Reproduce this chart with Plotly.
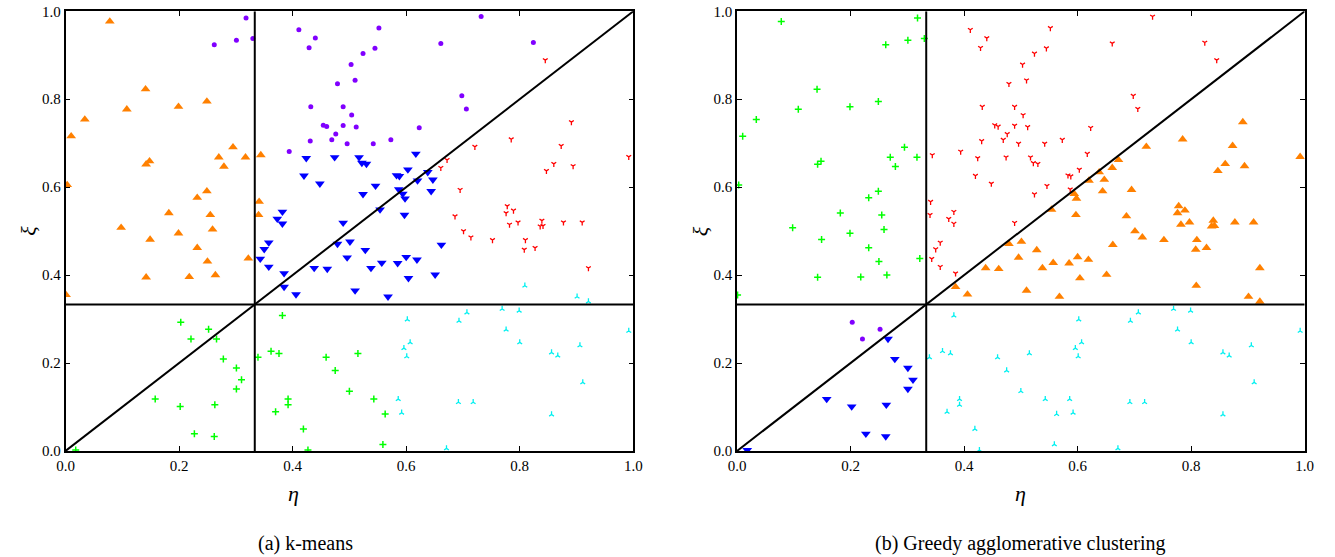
import plotly.graph_objects as go

# ---------------- data (eta, xi) grouped by k-means cluster ----------------
ORANGE_ETA = [0.078, 0.141, 0.108, 0.199, 0.249, 0.034, 0.010, 0.295, 0.270, 0.317, 0.279, 0.148, 0.142,
              0.344, 0.003, 0.249, 0.232, 0.182, 0.255, 0.341, 0.340, 0.098, 0.199, 0.259, 0.149, 0.232,
              0.250, 0.322, 0.142, 0.218, 0.264, 0.001]
ORANGE_XI = [0.977, 0.823, 0.777, 0.783, 0.795, 0.754, 0.716, 0.691, 0.668, 0.668, 0.647, 0.659, 0.652,
             0.673, 0.605, 0.591, 0.576, 0.541, 0.537, 0.567, 0.537, 0.508, 0.495, 0.504, 0.481, 0.462,
             0.431, 0.438, 0.395, 0.396, 0.400, 0.355]

PURPLE_ETA = [0.318, 0.262, 0.301, 0.330, 0.411, 0.440, 0.429, 0.552, 0.545, 0.524, 0.661, 0.503, 0.510,
              0.479, 0.432, 0.489, 0.504, 0.454, 0.460, 0.489, 0.512, 0.623, 0.476, 0.469, 0.431, 0.496,
              0.542, 0.573, 0.394, 0.732, 0.824, 0.698, 0.706]
PURPLE_XI = [0.985, 0.924, 0.934, 0.938, 0.958, 0.939, 0.917, 0.962, 0.916, 0.904, 0.927, 0.879, 0.843,
             0.835, 0.783, 0.783, 0.764, 0.741, 0.738, 0.740, 0.737, 0.735, 0.721, 0.708, 0.705, 0.699,
             0.699, 0.708, 0.681, 0.988, 0.929, 0.808, 0.778]

BLUE_ETA = [0.424, 0.474, 0.517, 0.522, 0.530, 0.617, 0.603, 0.420, 0.448, 0.583, 0.588, 0.638, 0.620,
            0.647, 0.546, 0.587, 0.594, 0.598, 0.644, 0.524, 0.554, 0.597, 0.382, 0.373, 0.382, 0.489,
            0.358, 0.350, 0.343, 0.358, 0.385, 0.385, 0.406, 0.479, 0.501, 0.528, 0.496, 0.438, 0.461,
            0.538, 0.557, 0.585, 0.600, 0.619, 0.604, 0.651, 0.662, 0.510, 0.568]
BLUE_XI = [0.666, 0.668, 0.668, 0.655, 0.653, 0.676, 0.640, 0.626, 0.608, 0.627, 0.625, 0.634, 0.615,
           0.617, 0.603, 0.595, 0.585, 0.574, 0.591, 0.584, 0.549, 0.537, 0.544, 0.528, 0.517, 0.519,
           0.474, 0.459, 0.437, 0.419, 0.404, 0.373, 0.356, 0.471, 0.476, 0.457, 0.440, 0.416, 0.414,
           0.416, 0.428, 0.427, 0.441, 0.435, 0.393, 0.401, 0.469, 0.365, 0.351]

RED_ETA = [0.672, 0.661, 0.845, 0.891, 0.785, 0.721, 0.873, 0.992, 0.860, 0.894, 0.847, 0.695, 0.686,
           0.778, 0.776, 0.789, 0.782, 0.797, 0.839, 0.836, 0.841, 0.877, 0.910, 0.701, 0.714, 0.752,
           0.810, 0.808, 0.827, 0.921]
RED_XI = [0.662, 0.644, 0.889, 0.748, 0.709, 0.692, 0.694, 0.669, 0.653, 0.648, 0.637, 0.594, 0.534,
          0.557, 0.541, 0.547, 0.515, 0.520, 0.524, 0.511, 0.512, 0.520, 0.520, 0.500, 0.486, 0.480,
          0.480, 0.458, 0.462, 0.416]

GREEN_ETA = [0.203, 0.252, 0.221, 0.266, 0.278, 0.301, 0.310, 0.301, 0.158, 0.202, 0.263, 0.227, 0.262,
             0.018, 0.339, 0.382, 0.362, 0.376, 0.459, 0.515, 0.475, 0.500, 0.392, 0.392, 0.370, 0.543,
             0.563, 0.419, 0.427, 0.559]
GREEN_XI = [0.293, 0.277, 0.255, 0.255, 0.209, 0.189, 0.162, 0.141, 0.118, 0.101, 0.105, 0.039, 0.033,
            0.002, 0.213, 0.308, 0.227, 0.222, 0.213, 0.222, 0.183, 0.136, 0.118, 0.105, 0.089, 0.118,
            0.084, 0.050, 0.002, 0.015]

CYAN_ETA = [0.602, 0.607, 0.596, 0.601, 0.586, 0.592, 0.671, 0.809, 0.901, 0.921, 0.707, 0.769, 0.799,
            0.693, 0.776, 0.992, 0.800, 0.856, 0.867, 0.906, 0.911, 0.692, 0.718, 0.856]
CYAN_XI = [0.299, 0.247, 0.234, 0.215, 0.118, 0.087, 0.006, 0.376, 0.351, 0.340, 0.315, 0.323, 0.319,
           0.296, 0.276, 0.273, 0.247, 0.224, 0.217, 0.240, 0.156, 0.111, 0.111, 0.083]

THRESHOLD = 1.0 / 3.0
TICKS = [0.0, 0.2, 0.4, 0.6, 0.8, 1.0]
TICK_LABELS = ["0.0", "0.2", "0.4", "0.6", "0.8", "1.0"]
CAPTIONS = ["(a) k-means", "(b) Greedy agglomerative clustering"]

# ---------------- styles ----------------
STYLE = {
    "purple": dict(symbol="circle", size=5, color="#8000ff", line=dict(width=0)),
    "blue": dict(symbol="triangle-down", size=8.5, color="#0000ff", line=dict(width=0)),
    "cyan": dict(symbol="y-up", size=4, color="rgba(0,0,0,0)", line=dict(width=1.3, color="#00f0f0")),
    "green": dict(symbol="cross-thin", size=5, color="rgba(0,0,0,0)", line=dict(width=1.5, color="#00ff00")),
    "orange": dict(symbol="triangle-up", size=8.5, color="#ff8000", line=dict(width=0)),
    "red": dict(symbol="y-down", size=4, color="rgba(0,0,0,0)", line=dict(width=1.3, color="#ff0000")),
}

kmeans = {
    "orange": (ORANGE_ETA, ORANGE_XI),
    "purple": (PURPLE_ETA, PURPLE_XI),
    "blue": (BLUE_ETA, BLUE_XI),
    "red": (RED_ETA, RED_XI),
    "green": (GREEN_ETA, GREEN_XI),
    "cyan": (CYAN_ETA, CYAN_XI),
}

# all points (same sample in both panels)
ALL_ETA, ALL_XI = [], []
for k in kmeans:
    ALL_ETA += kmeans[k][0]
    ALL_XI += kmeans[k][1]


def greedy_label(e, x):
    # cluster membership in the greedy agglomerative panel (regions split by 1/3 lines and diagonal)
    if e < THRESHOLD:
        if x >= THRESHOLD:
            return "green"
        return "purple" if x > e else "blue"
    if x < THRESHOLD:
        return "cyan"
    return "red" if x > e else "orange"


greedy = {k: ([], []) for k in STYLE}
for e, x in zip(ALL_ETA, ALL_XI):
    lab = greedy_label(e, x)
    greedy[lab][0].append(e)
    greedy[lab][1].append(x)

fig = go.Figure()
ORDER = ["purple", "blue", "cyan", "green", "orange", "red"]
for ax, groups in (("", kmeans), ("2", greedy)):
    for k in ORDER:
        ex, xy = groups[k]
        fig.add_trace(go.Scatter(x=ex, y=xy, mode="markers", marker=STYLE[k],
                                 xaxis="x" + ax, yaxis="y" + ax, showlegend=False,
                                 hoverinfo="x+y"))
    # partition lines
    for (x0, y0, x1, y1) in ((0, 0, 1, 1), (THRESHOLD, 0, THRESHOLD, 1), (0, THRESHOLD, 1, THRESHOLD)):
        fig.add_trace(go.Scatter(x=[x0, x1], y=[y0, y1], mode="lines",
                                 line=dict(color="black", width=2),
                                 xaxis="x" + ax, yaxis="y" + ax, showlegend=False, hoverinfo="skip"))

W, H = 1335, 557
YD = [(H - 451) / H, (H - 11.3) / H]
XD1 = [65.5 / W, 633.3 / W]
XD2 = [737.0 / W, 1304.7 / W]
FONT = "Liberation Serif"

axis_common = dict(range=[0, 1], tickvals=TICKS, ticktext=TICK_LABELS, ticks="inside", ticklen=5,
                   tickwidth=1.2, tickcolor="black", showline=True, linecolor="black", linewidth=1.5,
                   mirror="ticks", showgrid=False, zeroline=False, automargin=False,
                   tickfont=dict(family=FONT, size=15, color="black"), fixedrange=True)

fig.update_layout(
    template="none",
    width=W, height=H,
    margin=dict(l=0, r=0, t=0, b=0, pad=0, autoexpand=False),
    paper_bgcolor="white", plot_bgcolor="white",
    xaxis=dict(domain=XD1, anchor="y", **axis_common),
    yaxis=dict(domain=YD, anchor="x", **axis_common),
    xaxis2=dict(domain=XD2, anchor="y2", **axis_common),
    yaxis2=dict(domain=YD, anchor="x2", **axis_common),
    showlegend=False,
)

# label placements (pixels): eta label x, caption centre x
LABEL_POS = [(293.0, 305.0, XD1), (1020.0, 1020.0, XD2)]
ann = []
for (eta_x, cap_x, xd), cap in zip(LABEL_POS, CAPTIONS):
    ann.append(dict(x=eta_x / W, y=(H - 493) / H, xref="paper", yref="paper", text="<i>η</i>", showarrow=False,
                    font=dict(family=FONT, size=22, color="black"), xanchor="center", yanchor="middle"))
    ann.append(dict(x=xd[0] - 37 / W, y=(YD[0] + YD[1]) / 2, xref="paper", yref="paper", text="<i>ξ</i>",
                    showarrow=False, textangle=-90,
                    font=dict(family=FONT, size=22, color="black"), xanchor="center", yanchor="middle"))
    ann.append(dict(x=cap_x / W, y=(H - 543) / H, xref="paper", yref="paper", text=cap, showarrow=False,
                    font=dict(family=FONT, size=20, color="black"), xanchor="center", yanchor="middle"))
fig.update_layout(annotations=ann)

fig.write_html("out.html", config={"displayModeBar": False},
               post_script="document.body.style.margin='0';")
